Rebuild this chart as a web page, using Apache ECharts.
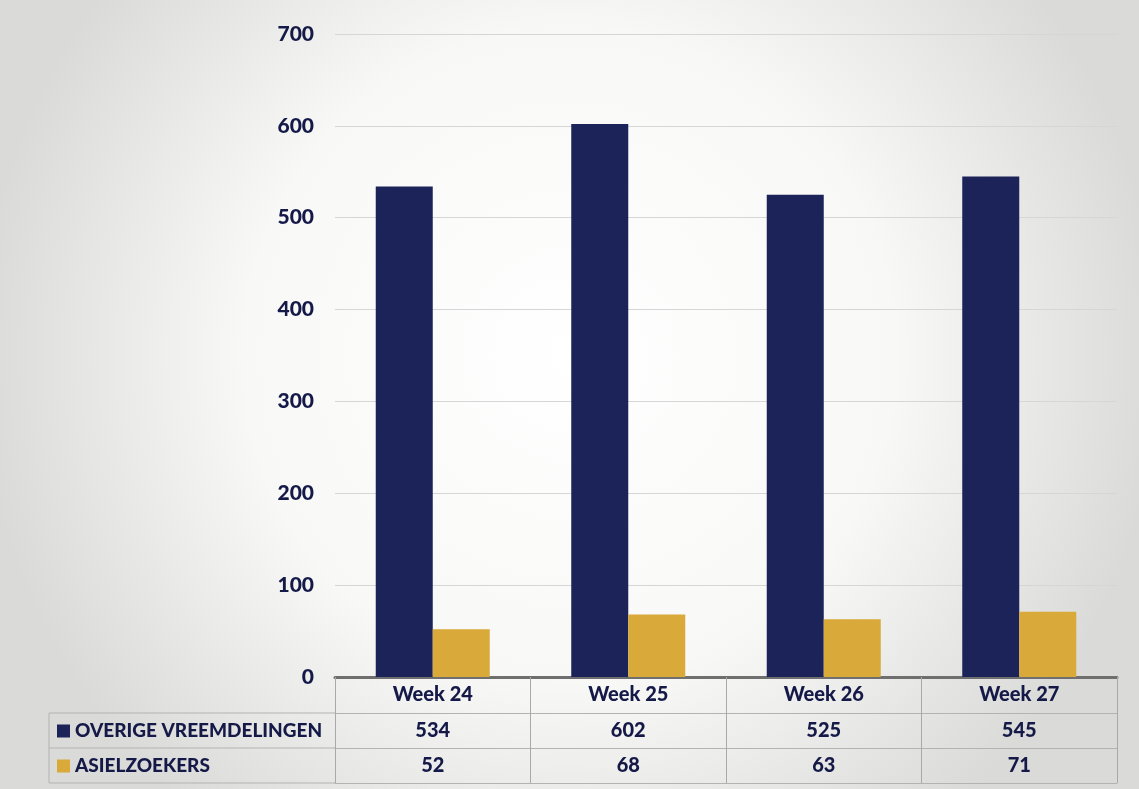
<!DOCTYPE html>
<html>
<head>
<meta charset="utf-8">
<script src="https://cdn.jsdelivr.net/npm/echarts@6/dist/echarts.min.js"></script>
<style>
html,body{margin:0;padding:0;background:#fff;}
#chart{width:1139px;height:789px;}
</style>
</head>
<body>
<div id="chart"></div>
<script>
const categories = ['Week 24', 'Week 25', 'Week 26', 'Week 27'];
const seriesNames = ['OVERIGE VREEMDELINGEN', 'ASIELZOEKERS'];
const overige = [534, 602, 525, 545];
const asielzoekers = [52, 68, 63, 71];
const yTicks = [0, 100, 200, 300, 400, 500, 600, 700];

const NAVY = '#1b2358';
const GOLD = '#d9a93a';
const TEXT = '#141947';
const FONT = 'Lato';
const WEIGHT = 900;

const W = 1139, H = 789;
const GRID_LEFT = 335, GRID_RIGHT = 22, GRID_TOP = 34, GRID_BOTTOM = 112;
const ROW = [0, 36, 71, 106];
const baseY = H - GRID_BOTTOM;
const TABLE_LEFT = 49;

const chart = echarts.init(document.getElementById('chart'));

function tableAxis(data, offset, showLabel, lineColor, lineWidth, tickLen) {
  return {
    type: 'category',
    data: data,
    position: 'bottom',
    offset: offset,
    gridIndex: 0,
    axisLine: { show: true, lineStyle: { color: lineColor, width: lineWidth } },
    axisTick: { show: tickLen > 0, length: tickLen, interval: 0, lineStyle: { color: '#a9a9a9', width: 1 } },
    axisLabel: {
      show: showLabel, interval: 0, margin: 8,
      color: TEXT, fontFamily: FONT, fontWeight: WEIGHT, fontSize: 20
    },
    splitLine: { show: false }
  };
}

const option = {
  backgroundColor: {
    type: 'radial', x: 0.5, y: 0.45, r: 0.75,
    colorStops: [
      { offset: 0, color: '#ffffff' },
      { offset: 0.55, color: '#f8f8f7' },
      { offset: 1, color: '#dadad8' }
    ]
  },
  animation: false,
  grid: { left: GRID_LEFT, right: GRID_RIGHT, top: GRID_TOP, bottom: GRID_BOTTOM, containLabel: false },
  legend: {
    data: seriesNames,
    orient: 'vertical',
    left: 52,
    top: 715,
    itemWidth: 13,
    itemHeight: 13,
    itemGap: 13,
    icon: 'rect',
    textStyle: { color: TEXT, fontFamily: FONT, fontWeight: WEIGHT, fontSize: 19, lineHeight: 22 },
    selectedMode: false
  },
  xAxis: [
    tableAxis(categories, ROW[0], true, '#6f6f6f', 3, ROW[1] - ROW[0]),
    tableAxis(overige.map(String), ROW[1], true, '#b3b3b3', 1, ROW[2] - ROW[1]),
    tableAxis(asielzoekers.map(String), ROW[2], true, '#b3b3b3', 1, ROW[3] - ROW[2]),
    tableAxis(categories, ROW[3], false, '#b3b3b3', 1, 0)
  ],
  yAxis: {
    type: 'value',
    min: yTicks[0],
    max: yTicks[yTicks.length - 1],
    interval: 100,
    axisLine: { show: false },
    axisTick: { show: false },
    axisLabel: { margin: 21, color: TEXT, fontFamily: FONT, fontWeight: WEIGHT, fontSize: 21 },
    splitLine: { lineStyle: { color: '#d6d6d6', width: 1 } }
  },
  series: [
    { name: seriesNames[0], type: 'bar', data: overige, xAxisIndex: 0, barWidth: 57, barGap: '0%', itemStyle: { color: NAVY } },
    { name: seriesNames[1], type: 'bar', data: asielzoekers, xAxisIndex: 0, barWidth: 57, barGap: '0%', itemStyle: { color: GOLD } }
  ],
  graphic: [
    {
      type: 'polyline', silent: true,
      shape: { points: [[GRID_LEFT, baseY + ROW[1]], [TABLE_LEFT, baseY + ROW[1]], [TABLE_LEFT, baseY + ROW[3]], [GRID_LEFT, baseY + ROW[3]]] },
      style: { stroke: '#b3b3b3', lineWidth: 1, fill: null }
    },
    {
      type: 'line', silent: true,
      shape: { x1: TABLE_LEFT, y1: baseY + ROW[2], x2: GRID_LEFT, y2: baseY + ROW[2] },
      style: { stroke: '#b3b3b3', lineWidth: 1 }
    }
  ]
};
chart.setOption(option);
</script>
</body>
</html>
